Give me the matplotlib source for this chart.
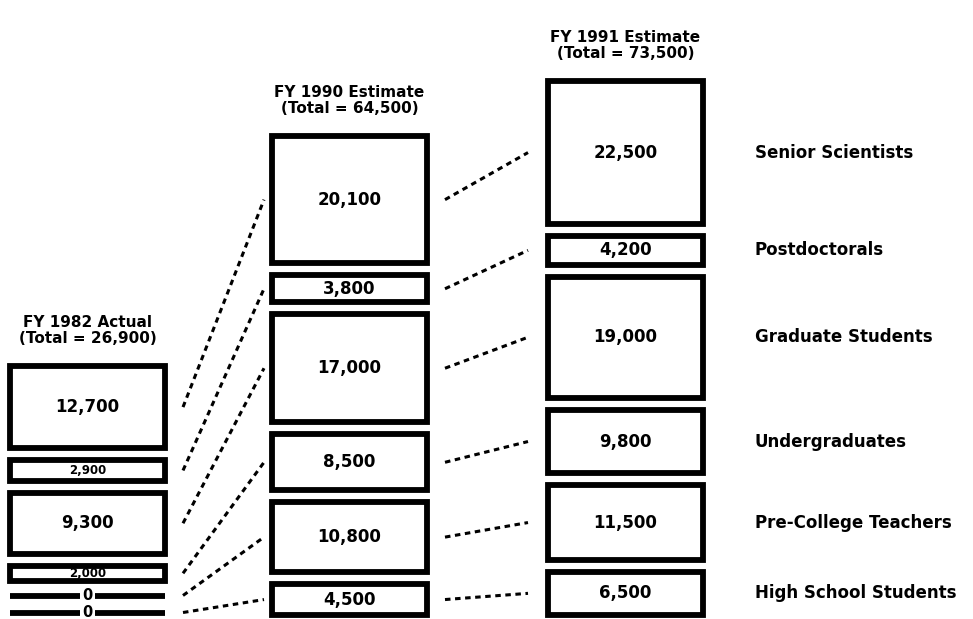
import matplotlib
matplotlib.use("Agg")
import matplotlib.pyplot as plt
from matplotlib.patches import Rectangle

# ---------------- data ----------------
categories = ["Senior Scientists", "Postdoctorals", "Graduate Students",
              "Undergraduates", "Pre-College Teachers", "High School Students"]
col_titles = ["FY 1982 Actual", "FY 1990 Estimate", "FY 1991 Estimate"]
totals = [26900, 64500, 73500]
fy1982 = [12700, 2900, 9300, 2000, 0, 0]
fy1990 = [20100, 3800, 17000, 8500, 10800, 4500]
fy1991 = [22500, 4200, 19000, 9800, 11500, 6500]
columns = [fy1982, fy1990, fy1991]

# ---------------- layout / style ----------------
W, H = 973, 619
PX = 0.0062            # pixels per person (vertical scale)
PAD = 3 / PX           # extra box height (in persons) for border room
GAP = 12 / PX          # gap between boxes
ZERO = 5 / PX          # space taken by a zero-height row
col_left = [10, 272, 548]
col_w = 155
LW = 4.2
FONT = "DejaVu Sans"

fig = plt.figure(figsize=(W / 100, H / 100), dpi=100)
ax = fig.add_axes([0, 0, 1, 1])
ax.set_xlim(0, W)
ax.set_ylim(-4 / PX, (H - 4) / PX)
ax.axis("off")

# compute box extents (stack from bottom)
extents = []
for vals in columns:
    cur = 0.0
    ext = [None] * len(vals)
    for i in range(len(vals) - 1, -1, -1):
        v = vals[i]
        if v > 0:
            h = v + PAD
            ext[i] = (cur, cur + h)
            cur += h + GAP
        else:
            ext[i] = (cur + ZERO / 2, cur + ZERO / 2)
            cur += ZERO + GAP
    extents.append(ext)

for c, vals in enumerate(columns):
    x0 = col_left[c]
    xc = x0 + col_w / 2
    ext = extents[c]
    for i, v in enumerate(vals):
        y0, y1 = ext[i]
        if v > 0:
            ax.add_patch(Rectangle((x0, y0), col_w, y1 - y0, facecolor="white",
                                   edgecolor="black", lw=LW, joinstyle="miter",
                                   clip_on=False))
            small = (y1 - y0) * PX < 30
            fs = 8.5 if (small and c == 0) else 12
            ax.text(xc, (y0 + y1) / 2, f"{v:,}", ha="center", va="center",
                    fontsize=fs, fontweight="bold", family=FONT)
        else:
            ax.plot([x0, x0 + col_w], [y0, y0], color="black", lw=LW,
                    solid_capstyle="butt", clip_on=False)
            ax.text(xc, y0, "0", ha="center", va="center", fontsize=10.5,
                    fontweight="bold", family=FONT,
                    bbox=dict(facecolor="white", edgecolor="none", pad=1.5))
    top = max(e[1] for e in ext)
    ax.text(xc, top + 20 / PX, f"{col_titles[c]}\n(Total = {totals[c]:,})",
            ha="center", va="bottom", fontsize=11, fontweight="bold",
            family=FONT, linespacing=1.1)

# dotted connectors between consecutive columns
for c in range(len(columns) - 1):
    xa = col_left[c] + col_w + 18
    xb = col_left[c + 1] - (8 if c == 0 else 20)
    for i in range(len(categories)):
        ya = sum(extents[c][i]) / 2
        yb = sum(extents[c + 1][i]) / 2
        ax.plot([xa, xb], [ya, yb], color="black", lw=2.2,
                linestyle=(0, (1.8, 1.5)), clip_on=False)

# category labels at the right
for i, name in enumerate(categories):
    yc = sum(extents[2][i]) / 2
    ax.text(755, yc, name, ha="left", va="center", fontsize=12,
            fontweight="bold", family=FONT)

fig.savefig("out.png", dpi=100, facecolor="white")
